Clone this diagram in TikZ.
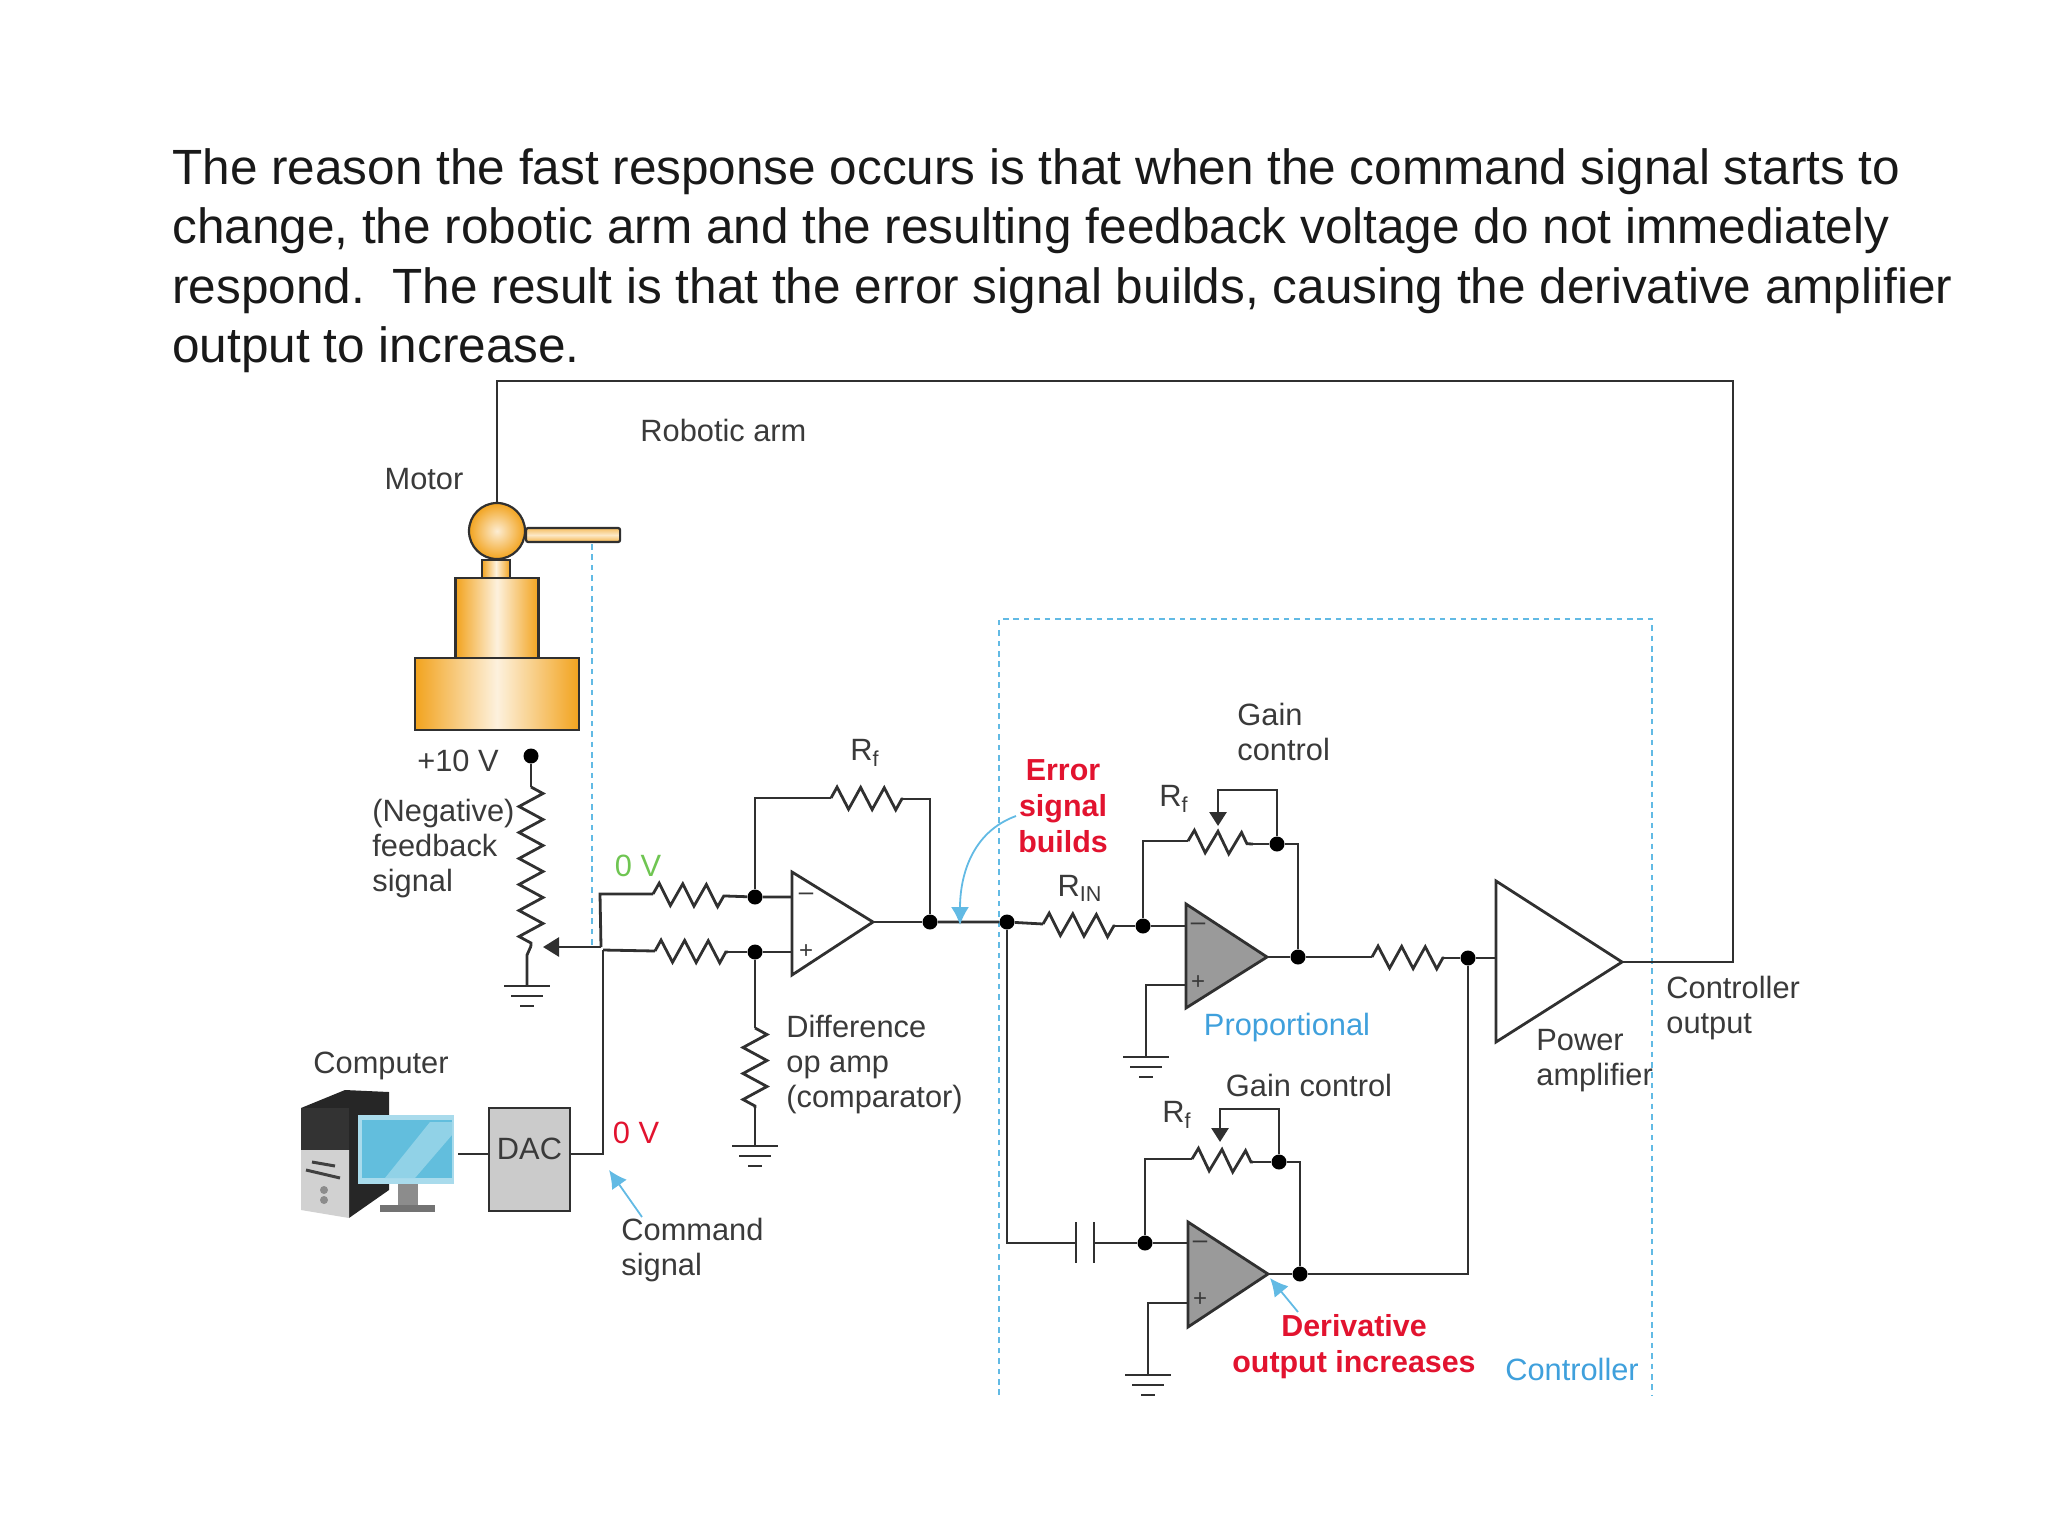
\documentclass[tikz,border=0pt]{standalone}
\usepackage{fontspec}
\setmainfont{Liberation Sans}
\usetikzlibrary{arrows.meta,decorations.pathmorphing}
\definecolor{wirecol}{HTML}{303030}
\definecolor{textcol}{HTML}{3A3A3A}
\definecolor{boxblue}{HTML}{62BAE4}
\definecolor{labelblue}{HTML}{3FA0DC}
\definecolor{errred}{HTML}{E2132F}
\definecolor{zerogreen}{HTML}{6FC552}
\definecolor{motorcol}{HTML}{F2A31E}
\definecolor{ampgray}{HTML}{9A9A9A}
\definecolor{dacgray}{HTML}{CBCBCB}
\definecolor{screencol}{HTML}{62BEDD}
\tikzset{
  wire/.style={draw=wirecol,line width=1.4pt,line join=miter},
  res/.style={wire,decorate,decoration={zigzag,amplitude=5.5pt,segment length=11.8pt}},
  potres/.style={wire,decorate,decoration={zigzag,amplitude=6pt,segment length=13pt}},
  vres/.style={wire,decorate,decoration={zigzag,amplitude=6pt,segment length=13pt}},
  junction/.style={circle,fill=black,inner sep=0pt,minimum size=7.5pt},
  lbl/.style={text=textcol,font=\fontsize{15.4}{17.5}\selectfont,align=left,inner sep=0pt},
  redlbl/.style={text=errred,font=\bfseries\fontsize{15.2}{18}\selectfont,align=center,inner sep=0pt},
  ctrlbox/.style={draw=boxblue,line width=1.3pt,dash pattern=on 2.8pt off 2.4pt},
  bluearrow/.style={draw=boxblue,line width=0.9pt,-{Latex[length=9pt,width=9pt]}},
  amp/.style={draw=wirecol,line width=1.4pt,line join=miter},
  metal/.style={draw=wirecol,line width=1.1pt,left color=motorcol,right color=motorcol,middle color=motorcol!15}
}
\newcommand{\groundmark}[1]{%
  \draw[wire] ([xshift=-11.5pt]#1) -- ([xshift=11.5pt]#1);
  \draw[wire] ([xshift=-8pt,yshift=-5pt]#1) -- ([xshift=8pt,yshift=-5pt]#1);
  \draw[wire] ([xshift=-3.5pt,yshift=-10pt]#1) -- ([xshift=3.5pt,yshift=-10pt]#1);
}
\begin{document}
\begin{tikzpicture}[x=0.5pt,y=-0.5pt]
  \useasboundingbox (0,0) rectangle (2048,1536);
  % heading
  \node[anchor=north west,align=left,inner sep=0pt,text=black!90,font=\fontsize{24.75}{29.7}\selectfont] (heading) at (172,148)
    {The reason the fast response occurs is that when the command signal starts to\\
     change, the robotic arm and the resulting feedback voltage do not immediately\\
     respond.\ \ The result is that the error signal builds, causing the derivative amplifier\\
     output to increase.};
  % controller box
  \coordinate (boxbl) at (999,1395);
  \coordinate (boxtl) at (999,619);
  \coordinate (boxtr) at (1652,619);
  \coordinate (boxbr) at (1652,1395);
  \draw[ctrlbox] (boxbl) -- (boxtl) -- (boxtr) -- (boxbr);
  % motor and arm
  \coordinate (armfoot) at (592,544);
  \coordinate (feedtap) at (592,947);
  \draw[ctrlbox] (armfoot) -- (feedtap);
  \node[draw=wirecol,line width=1.1pt,rounded corners=1pt,minimum width=47pt,minimum height=7pt,inner sep=0pt,anchor=west,top color=motorcol!70,bottom color=motorcol!80,middle color=motorcol!25] (arm) at (525,535) {};
  \node[metal,minimum width=14pt,minimum height=9pt,inner sep=0pt] (neck) at (496,569) {};
  \node[metal,minimum width=41.5pt,minimum height=40pt,inner sep=0pt] (body) at (497,618) {};
  \node[metal,minimum width=82pt,minimum height=36pt,inner sep=0pt] (base) at (497,694) {};
  \node[circle,draw=wirecol,line width=1.1pt,inner color=motorcol!20,outer color=motorcol,minimum size=28pt,inner sep=0pt] (ball) at (497,531) {};
  % feedback path to the controller output
  \coordinate (topleft) at (497,381);
  \coordinate (topright) at (1733,381);
  \coordinate (outcorner) at (1733,962);
  % potentiometer
  \node[junction] (plus) at (531,756) {};
  \coordinate (pottop) at (531,787);
  \coordinate (potbot) at (531,946);
  \coordinate (potgnd) at (527,986);
  \coordinate (potelbow) at (527,955);
  \coordinate (wiperend) at (543,947);
  \coordinate (wiper) at (601,947);
  \draw[wire] (plus) -- (pottop);
  \draw[potres] (pottop) -- (potbot);
  \draw[wire] (potbot) -- (potelbow) -- (potgnd);
  \draw[wire,-{Triangle[length=8pt,width=9.5pt]}] (wiper) -- (wiperend);
  \groundmark{potgnd}
  % difference amplifier
  \coordinate (dtop) at (792,872);
  \coordinate (dbot) at (792,975);
  \coordinate (dtip) at (873,922);
  \coordinate (dminus) at (792,897);
  \coordinate (dplus) at (792,952);
  \draw[amp] (dtop) -- (dbot) -- (dtip) -- cycle;
  \node[text=textcol,font=\fontsize{13}{13}\selectfont,inner sep=0pt] (dminussign) at (806,897) {--};
  \node[text=textcol,font=\fontsize{12}{12}\selectfont,inner sep=0pt] (dplussign) at (806,952) {+};
  \node[junction] (dn) at (755,897) {};
  \node[junction] (dp) at (755,952) {};
  \node[junction] (dout) at (930,922) {};
  \coordinate (up1) at (600,894);
  \coordinate (r1a) at (653,894);
  \coordinate (r1b) at (726,896);
  \coordinate (cmdtop) at (603,950);
  \coordinate (r2a) at (655,951);
  \coordinate (r2b) at (728,952);
  \draw[wire] (wiper) -- (up1) -- (r1a);
  \draw[res] (r1a) -- (r1b);
  \draw[wire] (r1b) -- (dn) -- (dminus);
  \draw[wire] (cmdtop) -- (r2a);
  \draw[res] (r2a) -- (r2b);
  \draw[wire] (r2b) -- (dp) -- (dplus);
  \coordinate (fb1) at (755,798);
  \coordinate (fb1a) at (831,798);
  \coordinate (fb1b) at (903,799);
  \coordinate (fb1c) at (930,799);
  \draw[wire] (dn) -- (fb1) -- (fb1a);
  \draw[res] (fb1a) -- (fb1b);
  \draw[wire] (fb1b) -- (fb1c) -- (dout);
  \coordinate (r3a) at (755,1028);
  \coordinate (r3b) at (755,1108);
  \coordinate (dgnd) at (755,1146);
  \draw[wire] (dp) -- (r3a);
  \draw[vres] (r3a) -- (r3b);
  \draw[wire] (r3b) -- (dgnd);
  \groundmark{dgnd}
  % computer and converter
  \node[draw=wirecol,line width=1.4pt,fill=dacgray,minimum width=40.5pt,minimum height=51.5pt,inner sep=0pt] (dac) at (529.5,1159.5) {};
  \node[lbl] (dactext) at (529.5,1149) {DAC};
  \coordinate (pcout) at (458,1154);
  \coordinate (daccorner) at (603,1154);
  \draw[wire] (pcout) -- (dac.west |- pcout);
  \draw[wire] (dac.east |- pcout) -- (daccorner) -- (cmdtop);
  \fill[black!85] (301,1108) -- (345,1090) -- (389,1092) -- (389,1190) -- (349,1218) -- (349,1108) -- cycle;
  \fill[black!80] (301,1108) rectangle (349,1150);
  \fill[black!18] (301,1150) -- (349,1150) -- (349,1218) -- (301,1210) -- cycle;
  \draw[black!75,line width=1.5pt] (312,1162) -- (335,1166);
  \draw[black!75,line width=1.5pt] (306,1170) -- (340,1178);
  \fill[black!45] (324,1190) circle [radius=2pt];
  \fill[black!45] (324,1200) circle [radius=2pt];
  \fill[black!45] (398,1184) rectangle (418,1205);
  \fill[black!55] (380,1205) rectangle (435,1212);
  \fill[screencol!55!white] (358,1115) rectangle (454,1184);
  \fill[screencol] (362,1120) rectangle (452,1178);
  \fill[screencol!70!white] (385,1178) -- (430,1122) -- (452,1122) -- (452,1135) -- (415,1178) -- cycle;
  % proportional stage
  \coordinate (ptop) at (1186,904);
  \coordinate (pbot) at (1186,1008);
  \coordinate (ptip) at (1267,957);
  \coordinate (pminus) at (1186,926);
  \coordinate (pplus) at (1186,985);
  \draw[amp,fill=ampgray] (ptop) -- (pbot) -- (ptip) -- cycle;
  \node[text=textcol,font=\fontsize{13}{13}\selectfont,inner sep=0pt] (pminussign) at (1198,927) {--};
  \node[text=textcol,font=\fontsize{12}{12}\selectfont,inner sep=0pt] (pplussign) at (1198,983) {+};
  \node[junction] (err) at (1007,922) {};
  \node[junction] (pn) at (1143,926) {};
  \node[junction] (pout) at (1298,957) {};
  \node[junction] (pfb) at (1277,844) {};
  \coordinate (rina) at (1043,924);
  \coordinate (rinb) at (1115,926);
  \coordinate (pfba) at (1143,841);
  \coordinate (pfbb) at (1188,841);
  \coordinate (pfbc) at (1253,844);
  \coordinate (pfbd) at (1298,844);
  \coordinate (pgcup) at (1277,790);
  \coordinate (pgcleft) at (1218,790);
  \coordinate (pgctip) at (1218,826);
  \coordinate (pgelbow) at (1146,985);
  \coordinate (pgnd) at (1146,1057);
  \draw[wire] (dout) -- (err) -- (rina);
  \draw[wire] (dtip) -- (dout);
  \draw[res] (rina) -- (rinb);
  \draw[wire] (rinb) -- (pn) -- (pminus);
  \draw[wire] (pn) -- (pfba) -- (pfbb);
  \draw[res] (pfbb) -- (pfbc);
  \draw[wire] (pfbc) -- (pfb) -- (pfbd) -- (pout);
  \draw[wire,-{Triangle[length=7pt,width=8.5pt]}] (pfb) -- (pgcup) -- (pgcleft) -- (pgctip);
  \draw[wire] (pplus) -- (pgelbow) -- (pgnd);
  \draw[wire] (ptip) -- (pout);
  \groundmark{pgnd}
  % derivative stage
  \coordinate (ctop) at (1188,1222);
  \coordinate (cbot) at (1188,1327);
  \coordinate (ctip) at (1268,1274);
  \coordinate (cminus) at (1188,1243);
  \coordinate (cplus) at (1188,1303);
  \draw[amp,fill=ampgray] (ctop) -- (cbot) -- (ctip) -- cycle;
  \node[text=textcol,font=\fontsize{13}{13}\selectfont,inner sep=0pt] (cminussign) at (1200,1245) {--};
  \node[text=textcol,font=\fontsize{12}{12}\selectfont,inner sep=0pt] (cplussign) at (1200,1300) {+};
  \node[junction] (cn) at (1145,1243) {};
  \node[junction] (cout) at (1300,1274) {};
  \node[junction] (cfb) at (1279,1162) {};
  \coordinate (capcorner) at (1007,1243);
  \coordinate (capl) at (1076,1243);
  \coordinate (capr) at (1094,1243);
  \coordinate (caplt) at (1076,1222);
  \coordinate (caplb) at (1076,1263);
  \coordinate (caprt) at (1094,1222);
  \coordinate (caprb) at (1094,1263);
  \coordinate (cfba) at (1145,1159);
  \coordinate (cfbb) at (1192,1159);
  \coordinate (cfbc) at (1253,1162);
  \coordinate (cfbd) at (1300,1162);
  \coordinate (cgcup) at (1279,1109);
  \coordinate (cgcleft) at (1220,1109);
  \coordinate (cgctip) at (1220,1142);
  \coordinate (cgelbow) at (1148,1303);
  \coordinate (cgnd) at (1148,1375);
  \draw[wire] (err) -- (capcorner) -- (capl);
  \draw[wire] (caplt) -- (caplb);
  \draw[wire] (caprt) -- (caprb);
  \draw[wire] (capr) -- (cn) -- (cminus);
  \draw[wire] (cn) -- (cfba) -- (cfbb);
  \draw[res] (cfbb) -- (cfbc);
  \draw[wire] (cfbc) -- (cfb) -- (cfbd) -- (cout);
  \draw[wire,-{Triangle[length=7pt,width=8.5pt]}] (cfb) -- (cgcup) -- (cgcleft) -- (cgctip);
  \draw[wire] (cplus) -- (cgelbow) -- (cgnd);
  \draw[wire] (ctip) -- (cout);
  \groundmark{cgnd}
  % power amplifier
  \coordinate (atop) at (1496,881);
  \coordinate (abot) at (1496,1042);
  \coordinate (atip) at (1622,962);
  \coordinate (ain) at (1496,958);
  \coordinate (r4a) at (1372,957);
  \coordinate (r4b) at (1444,958);
  \node[junction] (sum) at (1468,958) {};
  \coordinate (sumbot) at (1468,1274);
  \draw[amp] (atop) -- (abot) -- (atip) -- cycle;
  \draw[wire] (pout) -- (r4a);
  \draw[res] (r4a) -- (r4b);
  \draw[wire] (r4b) -- (sum) -- (ain);
  \draw[wire] (cout) -- (sumbot) -- (sum);
  \draw[wire] (atip) -- (outcorner) -- (topright) -- (topleft) -- (ball);
  % blue pointers
  \coordinate (errtail) at (1016,816);
  \coordinate (errtip) at (960,925);
  \coordinate (cmdtail) at (642,1217);
  \coordinate (cmdtip) at (609,1170);
  \coordinate (dertail) at (1298,1312);
  \coordinate (dertip) at (1270,1278);
  \draw[bluearrow] (errtail) to[out=200,in=90] (errtip);
  \draw[bluearrow] (cmdtail) -- (cmdtip);
  \draw[bluearrow] (dertail) -- (dertip);
  % labels
  \node[lbl,anchor=west] (armtext) at (640,430) {Robotic arm};
  \node[lbl] (motortext) at (424,479) {Motor};
  \node[lbl] (plustext) at (458,761) {+10 V};
  \node[lbl,anchor=west] (negtext) at (372,849) {(Negative)\\feedback\\signal};
  \node[lbl,text=zerogreen] (zerotop) at (638,866) {0 V};
  \node[lbl,text=errred] (zerocmd) at (636,1133) {0 V};
  \node[lbl] (rfone) at (865,753) {R\textsubscript{f}};
  \node[lbl,anchor=west] (difftext) at (786,1065) {Difference\\op amp\\(comparator)};
  \node[lbl] (pctext) at (381,1066) {Computer};
  \node[lbl,anchor=west] (cmdtext) at (621,1250) {Command\\signal};
  \node[redlbl] (errtext) at (1063,806) {Error\\signal\\builds};
  \node[lbl] (rintext) at (1080,888) {R\textsubscript{IN}};
  \node[lbl] (rftwo) at (1174,799) {R\textsubscript{f}};
  \node[lbl,anchor=west] (gainone) at (1237,732) {Gain\\control};
  \node[lbl,text=labelblue] (proptext) at (1287,1028) {Proportional};
  \node[lbl] (gaintwo) at (1309,1085) {Gain control};
  \node[lbl] (rfthree) at (1177,1115) {R\textsubscript{f}};
  \node[redlbl] (dertext) at (1354,1347) {Derivative\\output increases};
  \node[lbl,text=labelblue] (ctrltext) at (1572,1369) {Controller};
  \node[lbl,anchor=west] (powertext) at (1536,1061) {Power\\amplifier};
  \node[lbl,anchor=west] (outtext) at (1666,1008) {Controller\\output};
\end{tikzpicture}
\end{document}
